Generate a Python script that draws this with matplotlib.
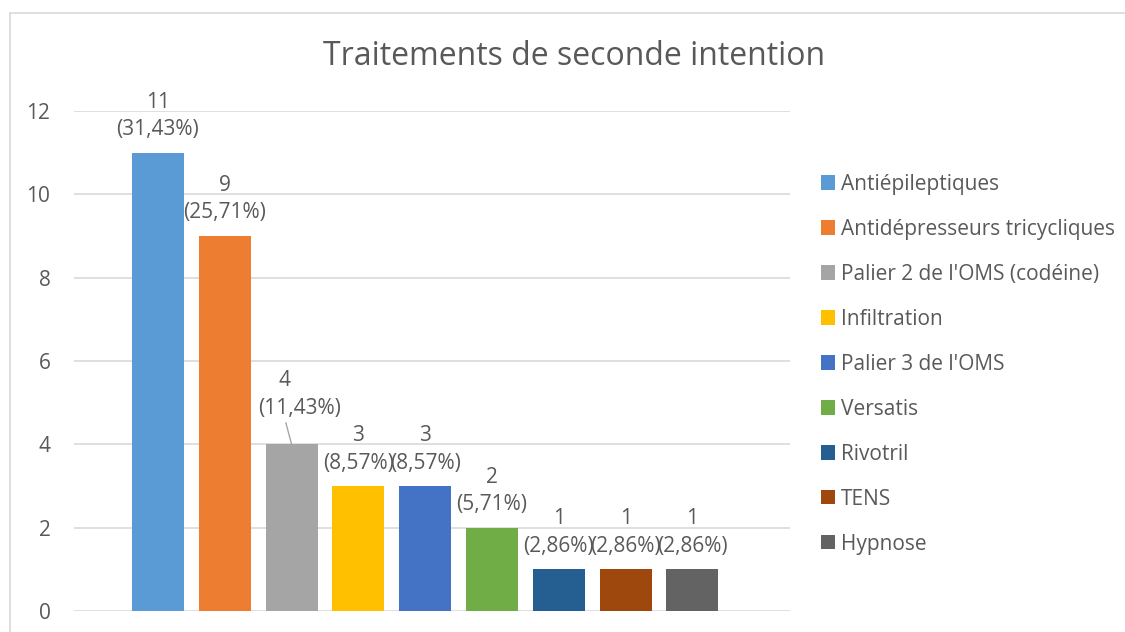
import matplotlib.pyplot as plt
import numpy as np

plt.rcParams['font.family'] = ['Open Sans', 'DejaVu Sans']

# données
categories = ["Antiépileptiques", "Antidépresseurs tricycliques",
              "Palier 2 de l'OMS (codéine)", "Infiltration", "Palier 3 de l'OMS",
              "Versatis", "Rivotril", "TENS", "Hypnose"]
valeurs = [11, 9, 4, 3, 3, 2, 1, 1, 1]
pourcentages = ["31,43%", "25,71%", "11,43%", "8,57%", "8,57%",
                "5,71%", "2,86%", "2,86%", "2,86%"]
couleurs = ["#5B9BD5", "#ED7D31", "#A5A5A5", "#FFC000", "#4472C4",
            "#70AD47", "#255E91", "#9E480E", "#636363"]

gris = "#595959"
fs = 15

fig = plt.figure(figsize=(11.25, 6.32), dpi=100)
ax = fig.add_axes([0.0658, 0.0332, 0.6364, 0.7912])

x = np.arange(len(valeurs))
barres = ax.bar(x, valeurs, width=0.78, color=couleurs, zorder=3)

ax.set_ylim(0, 12)
ax.set_xlim(-1.257, 9.46)
ax.set_yticks(range(0, 13, 2))
ax.yaxis.grid(True, color="#D9D9D9", linewidth=1.2, zorder=0)
ax.tick_params(axis='y', length=0, labelsize=fs, labelcolor=gris, pad=17)
ax.set_xticks([])
for s in ax.spines.values():
    s.set_visible(False)

# étiquettes
for i, (v, p) in enumerate(zip(valeurs, pourcentages)):
    if i == 2:
        # étiquette déplacée avec ligne de rappel
        ax.annotate(f"({p})", xy=(i, v), xytext=(i + 0.12, v + 0.87),
                    ha='center', va='center', fontsize=fs, color=gris,
                    arrowprops=dict(arrowstyle='-', color='#A6A6A6', lw=1,
                                    relpos=(0.32, 0), shrinkA=1, shrinkB=0))
        ax.text(i - 0.1, v + 1.54, f"{v}", ha='center', va='center',
                fontsize=fs, color=gris)
    else:
        ax.annotate(f"{v}\n({p})", xy=(i, v), xytext=(0, 9),
                    textcoords='offset points', ha='center', va='bottom',
                    fontsize=fs, color=gris, linespacing=1.41)

fig.text(0.51, 0.911, "Traitements de seconde intention", ha='center',
         va='center', fontsize=23, color=gris)

ax.legend(barres, categories, loc='upper left', bbox_to_anchor=(0.722, 0.738),
          bbox_transform=fig.transFigure, frameon=False, fontsize=fs,
          labelcolor=gris, handlelength=0.68, handleheight=0.68,
          handletextpad=0.3, labelspacing=1.15, borderaxespad=0)

# cadre du graphique
fig.add_artist(plt.Line2D([0.0093, 0.0093], [0, 0.979], color="#D9D9D9",
                          lw=1.2, transform=fig.transFigure))
fig.add_artist(plt.Line2D([0.0093, 1], [0.979, 0.979], color="#D9D9D9",
                          lw=1.2, transform=fig.transFigure))

fig.savefig("out.png", dpi=100)
